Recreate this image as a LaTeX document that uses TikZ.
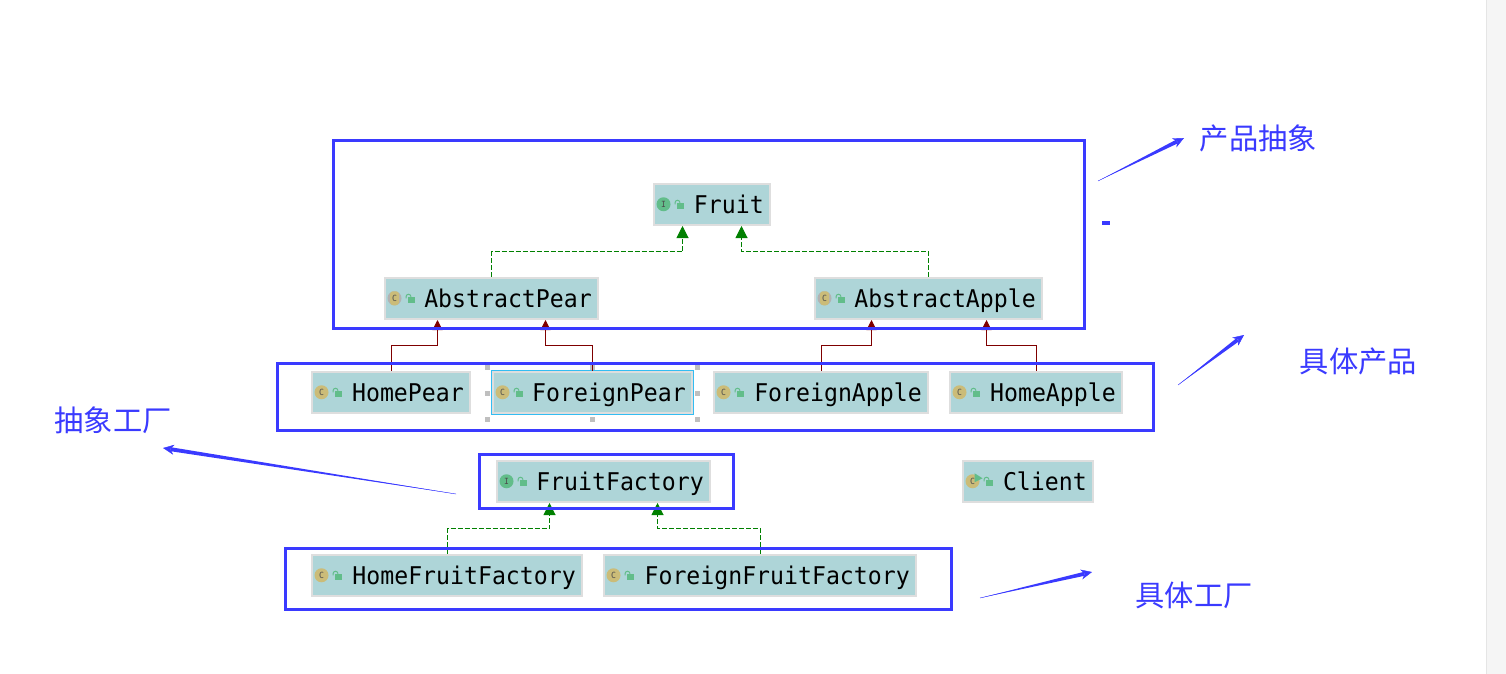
\documentclass[tikz,border=0pt]{standalone}
\usepackage{fontspec}
\setmonofont[FakeStretch=0.95]{DejaVu Sans Mono}
\newfontfamily\cjk{Noto Sans CJK SC}
\usetikzlibrary{arrows.meta,calc}

\definecolor{boxfill}{HTML}{AED5D8}
\definecolor{boxedge}{HTML}{DEDEDE}
\definecolor{markblue}{HTML}{3A3AFF}
\definecolor{extendred}{HTML}{7F0000}
\definecolor{implgreen}{HTML}{008000}
\definecolor{iconyellow}{HTML}{CBBC78}
\definecolor{icongreen}{HTML}{62BD8A}

\tikzset{
  classbox/.style={draw=boxedge, line width=2pt, fill=boxfill, anchor=north west, minimum height=41.5pt,
    inner xsep=0pt, inner ysep=0pt, align=right, text height=18pt, text depth=0pt,
    font=\ttfamily\fontsize{24.4pt}{26pt}\selectfont, text=black},
  classicon/.style={circle, fill=iconyellow, minimum size=14pt, inner sep=0pt, text=black!70,
    font=\ttfamily\fontsize{8.5pt}{9pt}\selectfont},
  faceicon/.style={classicon, fill=icongreen},
  extendline/.style={draw=extendred, line width=1pt, -{Triangle[length=10pt,width=10pt]}},
  implline/.style={draw=implgreen, line width=1pt, dash pattern=on 5pt off 2pt, -{Triangle[length=12pt,width=12pt]}},
  markframe/.style={draw=markblue, line width=3pt},
  marktext/.style={text=markblue, font=\cjk\fontsize{29.3pt}{32pt}\selectfont},
  handle/.style={fill=black!25, minimum size=5pt, inner sep=0pt},
  lockicon/.pic={
    \fill[icongreen] (-2.5,-2.5) rectangle (4,3.5);
    \draw[icongreen, line width=1pt] (-4.5,-1) -- (-4.5,-2.5) arc (180:360:2.5);
  }
}

% mark arrow, thin at the start and thick at the head
\newcommand{\markarrow}[2]{
  \fill[markblue] (#1) -- ($(#2)!8pt!(#1)!2pt!90:(#2)$) -- ($(#2)!8pt!(#1)!2pt!-90:(#2)$) -- cycle;
  \draw[markblue, line width=0.4pt, -{Stealth[length=11pt,width=10pt]}] (#1) -- (#2);
}

\begin{document}
\begin{tikzpicture}[x=1pt,y=-1pt]
  \useasboundingbox (0,0) rectangle (1506,674);
  \fill[black!4] (1486,0) rectangle (1506,674);
  \draw[black!10] (1486,0) -- (1486,674);

  % grey handles round the selected class
  \foreach \hx in {487,592,697}
    \foreach \hy in {367,393,419}
      \node[handle] (handle-\hx-\hy) at (\hx,\hy) {};

  % class boxes
  \foreach \name/\bx/\by/\bw in {Fruit/653/183/118, AbstractPear/384/277/215, AbstractApple/814/277/229,
      HomePear/311/371/160, ForeignPear/492/371/201, ForeignApple/713/371/216, HomeApple/949/371/174,
      FruitFactory/496/460/215, Client/962/460/132, HomeFruitFactory/311/554/272, ForeignFruitFactory/603/554/314}
  {
    \node[classbox, minimum width=\bw pt-1.5pt, text width=\bw pt-14pt] (\name) at (\bx-0.5,\by-0.5) {\name};
    \pic at ($(\name.west)+(27,1)$) {lockicon};
  }
  \draw[cyan!80!white, line width=1pt] (ForeignPear.north west) rectangle (ForeignPear.south east);

  % class icons
  \foreach \name in {HomePear,ForeignPear,ForeignApple,HomeApple,HomeFruitFactory,ForeignFruitFactory}
    \node[classicon] (\name-icon) at ($(\name.west)+(11,0)$) {C};
  \foreach \name in {Fruit,FruitFactory}
    \node[faceicon] (\name-icon) at ($(\name.west)+(11,0)$) {I};
  \foreach \name in {AbstractPear,AbstractApple}{
    \node[classicon, fill=black!30] (\name-ring) at ($(\name.west)+(11,0)$) {};
    \node[classicon, minimum size=0pt, minimum width=9pt, minimum height=14pt, rounded corners=3pt, rectangle] (\name-icon) at (\name-ring) {C};
  }
  \node[classicon] (Client-icon) at ($(Client.west)+(11,0)$) {C};
  \fill[icongreen] ($(Client-icon)+(2,-8)$) -- ++(8,5) -- ++(-8,4) -- cycle;

  % inheritance lines
  \foreach \from/\dx/\to/\tx in {HomePear/81/AbstractPear/54, ForeignPear/101/AbstractPear/162,
      ForeignApple/109/AbstractApple/58, HomeApple/88/AbstractApple/173}
    \draw[extendline] ($(\from.north west)+(\dx,0)$) -- ++(0,-25) -| ($(\to.south west)+(\tx,0)$);

  % interface lines
  \foreach \from/\dx/\to/\tx in {AbstractPear/108/Fruit/30, AbstractApple/115/Fruit/89,
      HomeFruitFactory/137/FruitFactory/54, ForeignFruitFactory/158/FruitFactory/162}
    \draw[implline] ($(\from.north west)+(\dx,0)$) -- ++(0,-25) -| ($(\to.south west)+(\tx,0)$);

  % marks on top
  \draw[markframe] (333,140) rectangle (1084.5,328.5);
  \draw[markframe] (277,363) rectangle (1153.5,430.5);
  \draw[markframe] (479,454) rectangle (733.5,508.5);
  \draw[markframe] (285,548) rectangle (951.5,609.5);
  \fill[markblue] (1102,221) rectangle (1110,225);

  \node[marktext] (chanpin) at (1258.5,138.5) {产品抽象};
  \node[marktext] (juti) at (1358.5,361.5) {具体产品};
  \node[marktext] (chouxiang) at (113,420.5) {抽象工厂};
  \node[marktext] (gongchang) at (1194,595) {具体工厂};

  \coordinate (a1) at (1098,181);
  \coordinate (a2) at (1184,138);
  \coordinate (b1) at (1178,385);
  \coordinate (b2) at (1244,335);
  \coordinate (c1) at (456,494);
  \coordinate (c2) at (163,448);
  \coordinate (d1) at (980,598);
  \coordinate (d2) at (1092,572);
  \markarrow{a1}{a2}
  \markarrow{b1}{b2}
  \markarrow{c1}{c2}
  \markarrow{d1}{d2}
\end{tikzpicture}
\end{document}
